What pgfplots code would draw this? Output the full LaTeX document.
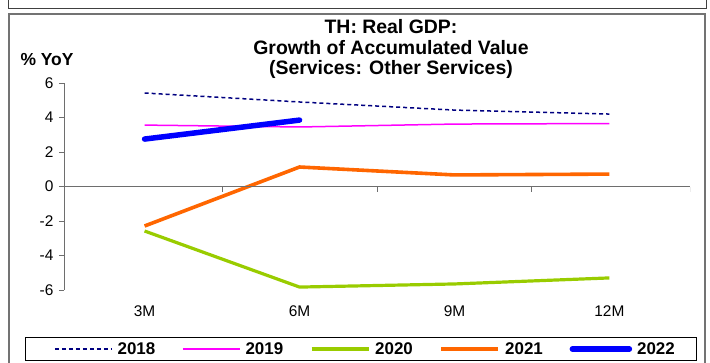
\documentclass[border=0pt]{standalone}
\usepackage{fontspec}
\setmainfont{Liberation Sans}
\usepackage{pgfplots}
\pgfplotsset{compat=1.18}

\definecolor{c2018}{RGB}{0,0,128}
\definecolor{c2019}{RGB}{255,0,255}
\definecolor{c2020}{RGB}{153,204,0}
\definecolor{c2021}{RGB}{255,102,0}
\definecolor{c2022}{RGB}{0,0,255}
\definecolor{axgray}{RGB}{110,110,110}

\begin{document}
\begin{tikzpicture}
\path[use as bounding box] (0bp,0bp) rectangle (710bp,363bp);
% frames
\draw[black!75, line width=0.8bp] (8bp,363bp) -- (8bp,355bp) -- (706bp,355bp) -- (706bp,363bp);
\draw[black!55, line width=1.5bp] (9bp,-2bp) -- (9bp,349bp) -- (705bp,349bp) -- (705bp,-2bp);
% legend box
\draw[black, line width=1bp] (25bp,2.7bp) rectangle (696.7bp,25.7bp);

% title and unit label
\node[font=\bfseries\fontsize{19.5}{20.5}\selectfont, align=center] at (391bp,314bp) {TH: Real GDP:\\Growth of Accumulated Value\\(Services: Other Services)};
\node[font=\bfseries\fontsize{17.5}{18}\selectfont] at (47bp,303bp) {\% YoY};

\begin{axis}[
at={(64bp,73bp)}, anchor=south west,
scale only axis,
width=626bp, height=207bp,
xmin=-0.52, xmax=3.52,
ymin=-6, ymax=6,
xtick={0,1,2,3},
xticklabels={3M,6M,9M,12M},
ytick={-6,-4,-2,0,2,4,6},
axis y line=left,
axis x line=bottom,
axis line style={-},
x axis line style={draw=none},
y axis line style={axgray, line width=1bp},
xtick style={draw=none},
ytick style={axgray, line width=1bp},
tick align=outside,
major tick length=5bp,
ticklabel style={font=\fontsize{15.5}{15.5}\selectfont},
/pgf/number format/assume math mode=true,
yticklabel style={xshift=-2bp},
xticklabel style={yshift=-7bp},
legend columns=5,
legend style={
  at={(axis description cs:0.480,-0.285)}, anchor=center,
  draw=none, fill=none, inner sep=0pt,
  nodes={inner sep=0pt},
  font=\bfseries\fontsize{17}{17}\selectfont,
  /tikz/every odd column/.append style={column sep=5bp},
  /tikz/every even column/.append style={column sep=26.75bp},
},
legend image code/.code={\draw[#1] (0bp,0bp) -- (57bp,0bp);},
]
\addplot[c2018, line width=1.5bp, dash pattern=on 4bp off 3bp] coordinates {
(0,5.42) (1,4.90) (2,4.43) (3,4.20)
};
\addlegendentry{2018}
\addplot[c2019, line width=1.5bp] coordinates {
(0,3.56) (1,3.45) (2,3.62) (3,3.65)
};
\addlegendentry{2019}
\addplot[c2020, line width=3.2bp] coordinates {
(0,-2.58) (1,-5.83) (2,-5.65) (3,-5.30)
};
\addlegendentry{2020}
\addplot[c2021, line width=3.6bp] coordinates {
(0,-2.29) (1,1.13) (2,0.67) (3,0.72)
};
\addlegendentry{2021}
\addplot[c2022, line width=5.5bp, line cap=round] coordinates {
(0,2.75) (1,3.85)
};
\addlegendentry{2022}

% zero line with category ticks
\draw[axgray, line width=1bp] (axis cs:-0.52,0) -- (axis cs:3.52,0);
\draw[axgray, line width=1bp] (axis cs:0.5,0) -- ([yshift=-5bp]axis cs:0.5,0);
\draw[axgray, line width=1bp] (axis cs:1.5,0) -- ([yshift=-5bp]axis cs:1.5,0);
\draw[axgray, line width=1bp] (axis cs:2.5,0) -- ([yshift=-5bp]axis cs:2.5,0);
\draw[axgray, line width=1bp] (axis cs:3.52,0) -- ([yshift=-5bp]axis cs:3.52,0);
\end{axis}
\end{tikzpicture}
\end{document}
